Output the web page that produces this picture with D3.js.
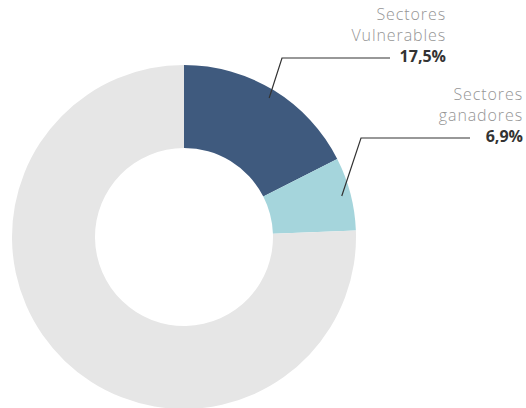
<!DOCTYPE html>
<html>
<head>
<meta charset="utf-8">
<script src="https://cdn.jsdelivr.net/npm/d3@7"></script>
<style>
  body { margin: 0; background: #fff; }
  svg { display: block; font-family: "Open Sans", Lato, sans-serif; }
</style>
</head>
<body>
<div id="chart"></div>
<script>
// chart values
var sectors = ["Sectores Vulnerables", "Sectores ganadores", "Resto"];
var shares = [17.5, 6.9, 75.6];
var labelLines = [["Sectores", "Vulnerables"], ["Sectores", "ganadores"], null];
var valueLabels = ["17,5%", "6,9%", null];

var palette = ["#3f5a7e", "#a5d5dc", "#e6e6e6"];

var width = 526, height = 408;
var cx = 184, cy = 237;
var outerR = 172, innerR = 89;

// label layout (elbow point and text anchor per labelled slice)
var labelPos = [
  {elbow: [282, 58], lineEnd: 390, textX: 446, textY: 20},
  {elbow: [361, 138], lineEnd: 470, textX: 523, textY: 100}
];

var svg = d3.select("#chart").append("svg")
    .attr("width", width)
    .attr("height", height);

var pie = d3.pie().sort(null).value(d => d);
var arc = d3.arc().innerRadius(innerR).outerRadius(outerR);
var arcs = pie(shares);

var g = svg.append("g").attr("transform", "translate(" + cx + "," + cy + ")");

g.selectAll("path")
    .data(arcs)
    .enter()
    .append("path")
    .attr("d", arc)
    .style("fill", (d, i) => palette[i]);

// leader lines + labels
arcs.forEach(function(d, i) {
    if (!labelLines[i]) return;
    var p = labelPos[i];
    var mid = (d.startAngle + d.endAngle) / 2;
    var r0 = 163;
    var x0 = cx + r0 * Math.sin(mid);
    var y0 = cy - r0 * Math.cos(mid);
    svg.append("polyline")
        .attr("points", [[x0, y0], p.elbow, [p.lineEnd, p.elbow[1]]].map(q => q.join(",")).join(" "))
        .style("fill", "none")
        .style("stroke", "#333")
        .style("stroke-width", 1.2);

    labelLines[i].forEach(function(line, k) {
        svg.append("text")
            .attr("text-anchor", "end")
            .attr("font-size", 16)
            .attr("x", p.textX)
            .attr("y", p.textY + k * 21)
            .style("fill", "#959595")
            .style("font-weight", 300)
            .style("letter-spacing", "0.9px")
            .text(line);
    });
    svg.append("text")
        .attr("text-anchor", "end")
        .attr("font-size", 16)
        .attr("x", p.textX)
        .attr("y", p.textY + 42)
        .style("fill", "#333")
        .style("font-weight", 700)
        .text(valueLabels[i]);
});
</script>
</body>
</html>
